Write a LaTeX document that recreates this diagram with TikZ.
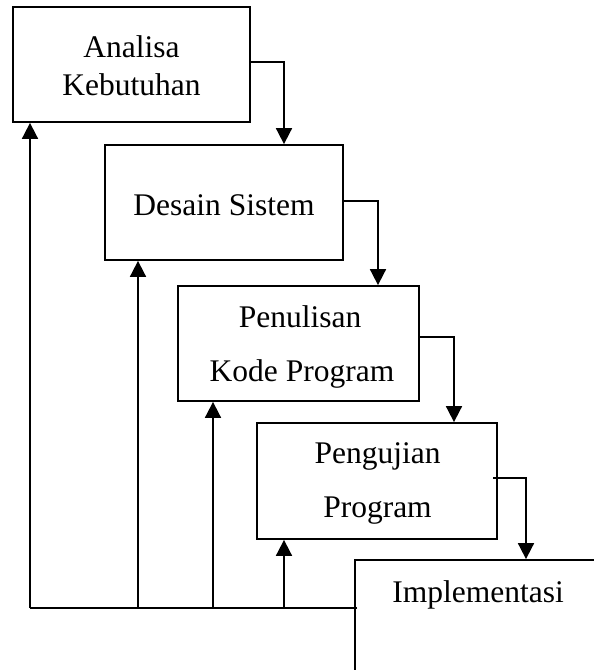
\documentclass[tikz,border=0pt]{standalone}
\usepackage{fontspec}
\setmainfont{Liberation Serif}
\usetikzlibrary{arrows.meta}
\begin{document}
\begin{tikzpicture}[x=1pt,y=-1pt,
  stage/.style={draw=black,line width=1.8pt,rectangle,inner sep=0pt},
  lbl/.style={anchor=base,inner sep=0pt,font=\fontsize{31.5}{38}\selectfont},
  link/.style={draw=black,line width=1.8pt},
  arr/.style={link,-{Triangle[length=16pt,width=16pt]}}]
\useasboundingbox (0,0) rectangle (594,670);
\clip (0,0) rectangle (594,670);
% boxes
\node[stage,minimum width=237pt,minimum height=115pt] (b1) at (131.5,64.5) {};
\node[stage,minimum width=238pt,minimum height=115pt] (b2) at (224,202.5) {};
\node[stage,minimum width=241pt,minimum height=115pt] (b3) at (298.5,343.5) {};
\node[stage,minimum width=240pt,minimum height=116pt] (b4) at (377,481) {};
\node[stage,minimum width=300pt,minimum height=200pt] (b5) at (505,660) {};
% labels
\node[lbl] (t1a) at (131.5,57) {Analisa};
\node[lbl] (t1b) at (131.5,95) {Kebutuhan};
\node[lbl] (t2) at (224,215) {Desain Sistem};
\node[lbl] (t3a) at (300,327) {Penulisan};
\node[lbl] (t3b) at (302,381) {Kode Program};
\node[lbl] (t4a) at (377.5,463) {Pengujian};
\node[lbl] (t4b) at (377.5,517) {Program};
\node[lbl] (t5) at (478,602) {Implementasi};
% forward arrows
\draw[arr] (b1.east |- 0,62) -| (284,0 |- b2.north);
\draw[arr] (b2.east |- 0,201) -| (378,0 |- b3.north);
\draw[arr] (b3.east |- 0,337) -| (454,0 |- b4.north);
\coordinate (s4) at (493,478);
\draw[arr] (s4) -| (526,0 |- b5.north);
% feedback
\coordinate (fb) at (357,608);
\draw[link] (fb) -- (fb -| 30,0);
\draw[arr] (fb -| 30,0) -- (30,0 |- b1.south);
\draw[arr] (fb -| 138,0) -- (138,0 |- b2.south);
\draw[arr] (fb -| 213,0) -- (213,0 |- b3.south);
\draw[arr] (fb -| 284,0) -- (284,0 |- b4.south);
\end{tikzpicture}
\end{document}
